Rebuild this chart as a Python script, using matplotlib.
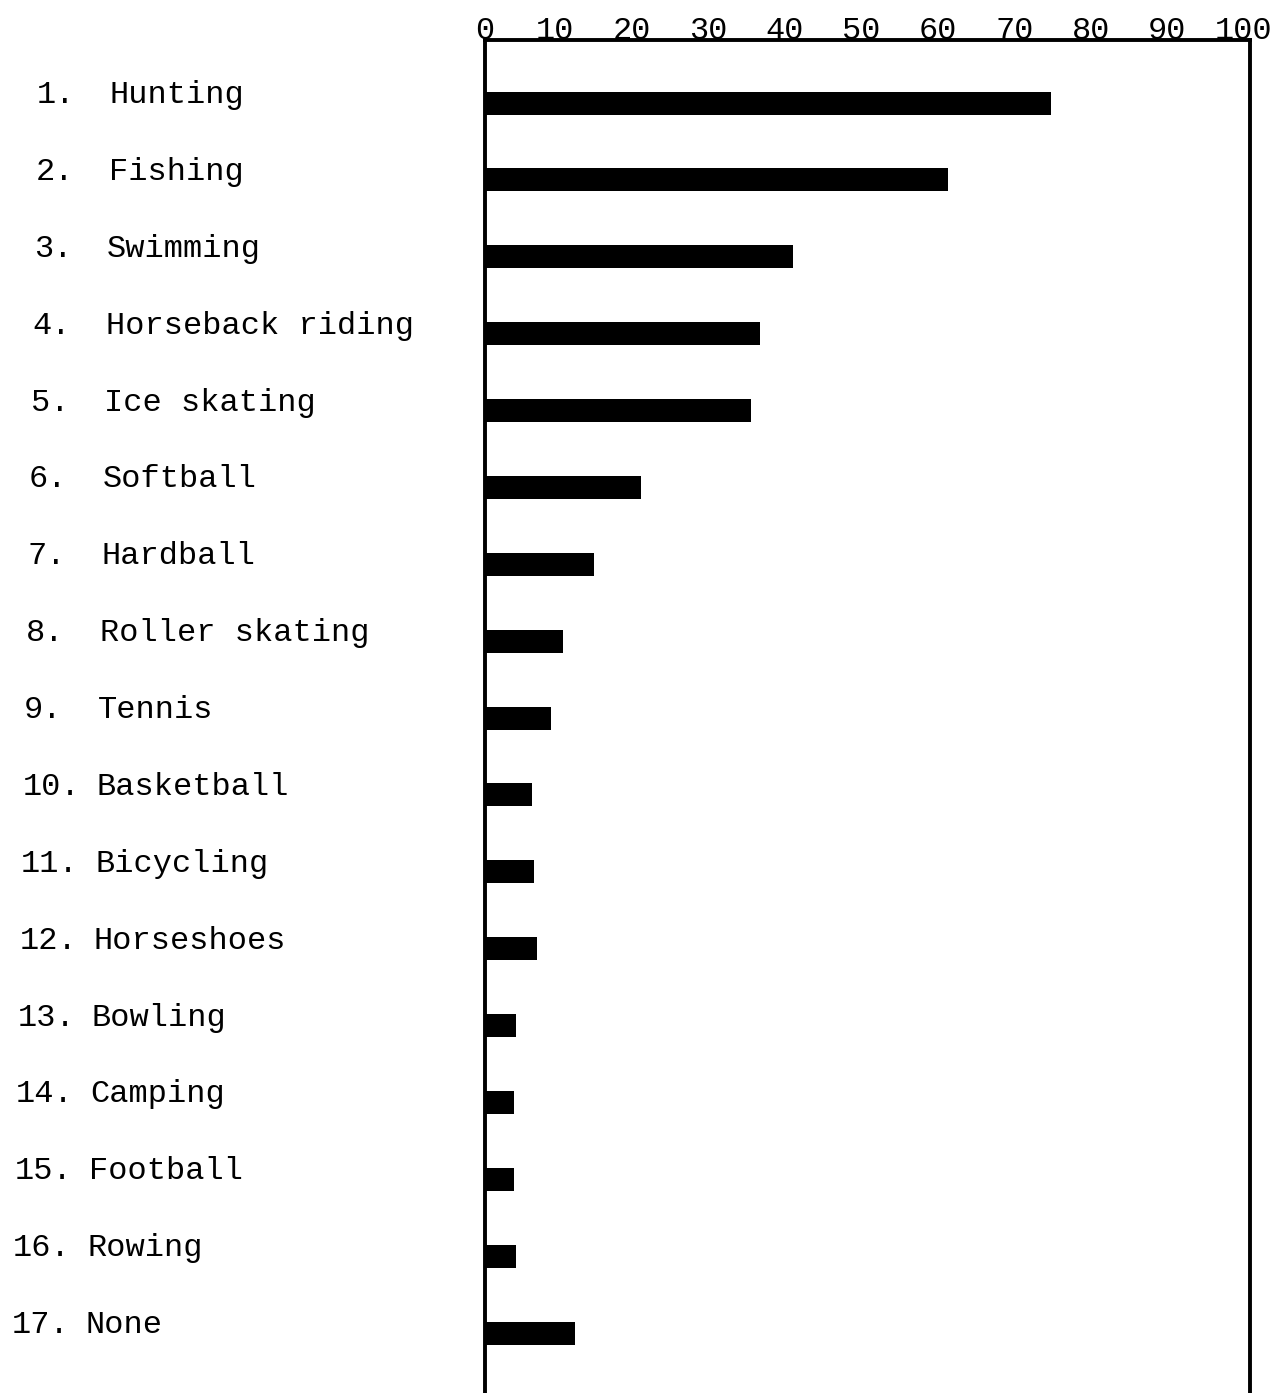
import matplotlib
matplotlib.use("Agg")
import matplotlib.pyplot as plt
from matplotlib.transforms import blended_transform_factory, ScaledTranslation

# activities, in ranked order, and percent of respondents
activities = [
	"Hunting", "Fishing", "Swimming", "Horseback riding", "Ice skating",
	"Softball", "Hardball", "Roller skating", "Tennis", "Basketball",
	"Bicycling", "Horseshoes", "Bowling", "Camping", "Football",
	"Rowing", "None",
]
percents = [74.0, 60.5, 40.3, 36.0, 34.8, 20.4, 14.2, 10.2, 8.6, 6.2,
	6.4, 6.8, 4.0, 3.8, 3.8, 4.0, 11.8]
ticks = [0, 10, 20, 30, 40, 50, 60, 70, 80, 90, 100]

FONT = "Liberation Mono"
W, H = 1280, 1393

fig = plt.figure(figsize=(W / 100, H / 100), dpi=100)
ax = fig.add_axes([485 / W, 0, (1250 - 485) / W, 1 - 40 / H])

ypos = list(range(len(activities)))
ax.barh(ypos, percents, height=0.3, color="black", left=0)

ax.set_xlim(0, 100)
ax.set_ylim(16.78, -0.82)

# typewriter style frame: top, left and right only
for side in ["top", "left", "right"]:
	ax.spines[side].set_linewidth(2.8)
	ax.spines[side].set_color("black")
ax.spines["bottom"].set_visible(False)

ax.xaxis.tick_top()
ax.set_xticks(ticks)
ax.set_xticklabels([str(t) for t in ticks], fontfamily=FONT, fontsize=23)
ax.tick_params(axis="x", length=0, pad=-4)
ax.set_yticks([])

# the typed numbers sit a little left of their marks
shift = ScaledTranslation(-6 / 100, 0, fig.dpi_scale_trans)
for lab in ax.get_xticklabels():
	if lab.get_text() != "0":
		lab.set_transform(lab.get_transform() + shift)

# row labels, slightly drifting to the left like the typed original
trans = blended_transform_factory(fig.transFigure, ax.transData)
for i, (name, y) in enumerate(zip(activities, ypos)):
	x_num = (37 - 1.6 * i) / W
	x_name = (110 - 1.5 * i) / W
	ax.text(x_num, y, f"{i + 1}.", transform=trans, fontfamily=FONT,
		fontsize=23, ha="left", va="baseline", clip_on=False)
	ax.text(x_name, y, name, transform=trans, fontfamily=FONT,
		fontsize=23, ha="left", va="baseline", clip_on=False)

fig.savefig("out.png", dpi=100, facecolor="white")
